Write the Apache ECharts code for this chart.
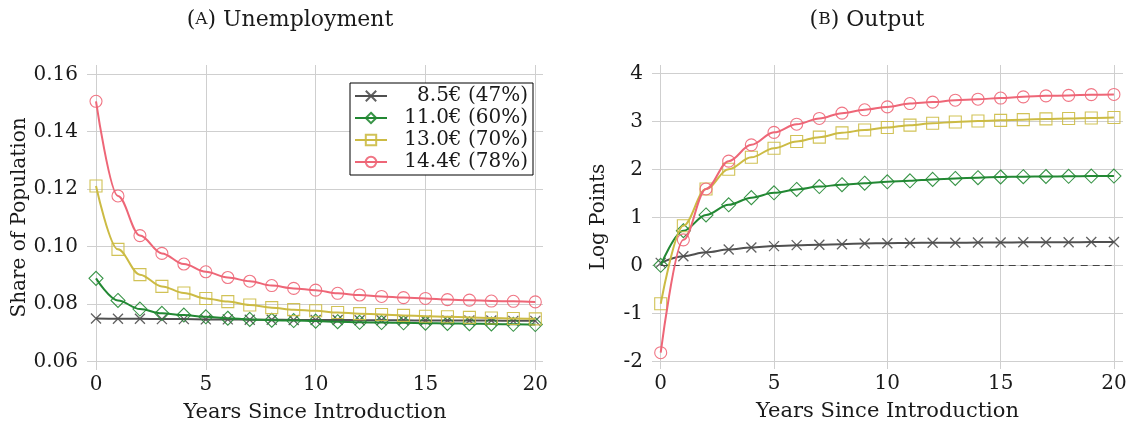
<!DOCTYPE html>
<html>
<head>
<meta charset="utf-8">
<script src="https://cdn.jsdelivr.net/npm/echarts@6/dist/echarts.min.js"></script>
<style>html,body{margin:0;padding:0;background:#fff}#c{width:1133px;height:428px}</style>
</head>
<body>
<div id="c"></div>
<script>
const years = [0,1,2,3,4,5,6,7,8,9,10,11,12,13,14,15,16,17,18,19,20];
const seriesNames = ['8.5€ (47%)', '11.0€ (60%)', '13.0€ (70%)', '14.4€ (78%)'];

// Panel A: Unemployment (share of population)
const unemp85  = [0.0749,0.0748,0.0748,0.0747,0.0747,0.0746,0.0746,0.0745,0.0745,0.0744,0.0744,0.0744,0.0743,0.0743,0.0743,0.0742,0.0742,0.0742,0.0742,0.0741,0.0741];
const unemp110 = [0.0889,0.0812,0.0782,0.0767,0.0761,0.0755,0.0750,0.0746,0.0743,0.0742,0.0740,0.0738,0.0736,0.0735,0.0734,0.0733,0.0732,0.0731,0.0730,0.0729,0.0728];
const unemp130 = [0.1211,0.0990,0.0902,0.0861,0.0838,0.0819,0.0808,0.0796,0.0787,0.0780,0.0776,0.0770,0.0766,0.0763,0.0760,0.0757,0.0755,0.0753,0.0751,0.0749,0.0748];
const unemp144 = [0.1506,0.1176,0.1038,0.0976,0.0939,0.0912,0.0892,0.0879,0.0864,0.0854,0.0848,0.0837,0.0831,0.0826,0.0822,0.0819,0.0815,0.0813,0.0810,0.0809,0.0807];

// Panel B: Output (log points)
const out85  = [0.05,0.19,0.27,0.33,0.37,0.40,0.42,0.43,0.44,0.455,0.46,0.465,0.47,0.47,0.475,0.475,0.48,0.48,0.48,0.485,0.485];
const out110 = [0.00,0.72,1.05,1.26,1.41,1.51,1.58,1.64,1.68,1.71,1.74,1.76,1.79,1.81,1.825,1.84,1.846,1.85,1.855,1.86,1.86];
const out130 = [-0.80,0.825,1.59,2.00,2.25,2.44,2.58,2.67,2.76,2.82,2.87,2.92,2.96,2.985,3.005,3.02,3.035,3.05,3.06,3.07,3.08];
const out144 = [-1.82,0.53,1.59,2.17,2.51,2.77,2.94,3.06,3.17,3.24,3.30,3.37,3.40,3.44,3.46,3.485,3.51,3.53,3.54,3.555,3.56];

const xTicks = [0,5,10,15,20];
const yTicksA = [0.06,0.08,0.10,0.12,0.14,0.16];
const yTicksB = [-2,-1,0,1,2,3,4];
const zeroLine = [0, 20];

const colors = ['#505050', '#228833', '#CCBB44', '#EE6677'];
const symbols = ['path://M0,0L10,10M10,0L0,10', 'diamond', 'rect', 'circle'];
const symSizes = [10, 14, 12, 12];
const FONT = 'DejaVu Serif';
const FS = 20;

const chart = echarts.init(document.getElementById('c'), null, {renderer: 'canvas'});

function mkSeries(data, i, axisIdx) {
  return {
    name: seriesNames[i],
    type: 'line',
    xAxisIndex: axisIdx, yAxisIndex: axisIdx,
    data: years.map((y, k) => [y, data[k]]),
    smooth: 0.35,
    smoothMonotone: 'x',
    symbol: symbols[i],
    symbolSize: symSizes[i],
    showAllSymbol: true,
    clip: false,
    z: 3 + i,
    lineStyle: {color: colors[i], width: 2},
    itemStyle: {color: 'rgba(0,0,0,0)', borderColor: colors[i], borderWidth: i === 0 ? 1.3 : 1.1, opacity: 0.9},
    emphasis: {disabled: true}
  };
}

function xAxis(idx, min, max) {
  return {
    type: 'value', gridIndex: idx, min: min, max: max,
    name: 'Years Since Introduction', nameLocation: 'middle', nameGap: 32,
    nameTextStyle: {fontFamily: FONT, fontSize: 21, color: '#1a1a1a'},
    axisLine: {show: false},
    axisTick: {show: false, customValues: xTicks},
    axisLabel: {customValues: xTicks, fontFamily: FONT, fontSize: FS, color: '#1a1a1a', margin: 5},
    splitLine: {show: true, lineStyle: {color: '#cfcfcf', width: 1}}
  };
}
function yAxis(idx, min, max, ticks, name, gap, fmt) {
  return {
    type: 'value', gridIndex: idx, min: min, max: max,
    name: name, nameLocation: 'middle', nameGap: gap, nameRotate: 90,
    nameTextStyle: {fontFamily: FONT, fontSize: FS, color: '#1a1a1a'},
    axisLine: {show: false},
    axisTick: {show: false, customValues: ticks},
    axisLabel: {customValues: ticks, fontFamily: FONT, fontSize: FS, color: '#1a1a1a', margin: 9, formatter: fmt},
    splitLine: {show: true, lineStyle: {color: '#cfcfcf', width: 1}}
  };
}

const seriesA = [unemp85, unemp110, unemp130, unemp144].map((d, i) => mkSeries(d, i, 0));
const seriesB = [out85, out110, out130, out144].map((d, i) => mkSeries(d, i, 1));
seriesB[0].markLine = {
  silent: true, symbol: ['none', 'none'], label: {show: false},
  lineStyle: {color: '#444', type: [7, 5], width: 1},
  data: [[{coord: [zeroLine[0], 0]}, {coord: [zeroLine[1], 0]}]]
};

chart.setOption({
  animation: false,
  backgroundColor: '#fff',
  title: [
    {text: '({s|A}) Unemployment', left: 285, top: 4, textAlign: 'center',
     textStyle: {fontFamily: FONT, fontSize: 22, fontWeight: 'normal', color: '#1a1a1a',
       rich: {s: {fontFamily: FONT, fontSize: 17, color: '#1a1a1a'}}}},
    {text: '({s|B}) Output', left: 862, top: 4, textAlign: 'center',
     textStyle: {fontFamily: FONT, fontSize: 22, fontWeight: 'normal', color: '#1a1a1a',
       rich: {s: {fontFamily: FONT, fontSize: 17, color: '#1a1a1a'}}}}
  ],
  legend: {
    data: seriesNames,
    left: 350, top: 83,
    orient: 'vertical',
    itemGap: 2,
    itemWidth: 32, itemHeight: 13,
    padding: [3, 5, 3, 4],
    borderColor: '#000', borderWidth: 1,
    backgroundColor: '#fff',
    selectedMode: false,
    formatter: n => '{t|' + n + '}',
    textStyle: {fontFamily: FONT, fontSize: FS, color: '#1a1a1a',
      rich: {t: {fontFamily: FONT, fontSize: FS, width: 136, align: 'right', lineHeight: 20, color: '#1a1a1a'}}}
  },
  grid: [
    {left: 87, top: 65, width: 456, height: 305},
    {left: 652, top: 65, width: 471, height: 304}
  ],
  xAxis: [xAxis(0, -0.41, 20.35), xAxis(1, -0.384, 20.40)],
  yAxis: [
    yAxis(0, 0.05697, 0.16324, yTicksA, 'Share of Population', 56, v => v.toFixed(2)),
    yAxis(1, -2.16, 4.173, yTicksB, 'Log Points', 43, v => String(v))
  ],
  series: seriesA.concat(seriesB)
});
</script>
</body>
</html>
